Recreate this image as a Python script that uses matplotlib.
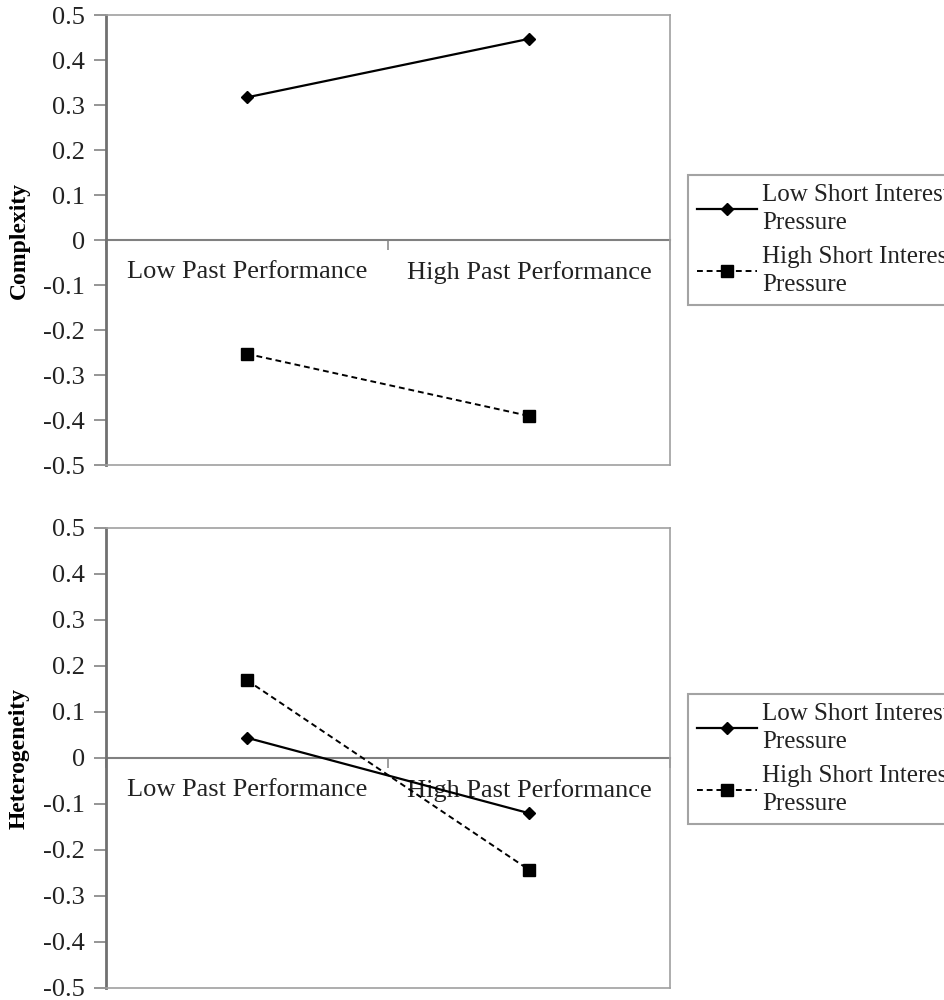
import numpy as np
import matplotlib.pyplot as plt
from matplotlib.lines import Line2D

plt.rcParams['font.family'] = ['Liberation Serif', 'DejaVu Serif']

categories = ['Low Past Performance', 'High Past Performance']
complexity_low = [0.317, 0.447]
complexity_high = [-0.253, -0.391]
hetero_low = [0.044, -0.12]
hetero_high = [0.169, -0.243]
yticks = [-0.5, -0.4, -0.3, -0.2, -0.1, 0, 0.1, 0.2, 0.3, 0.4, 0.5]
ytick_labels = ['-0.5', '-0.4', '-0.3', '-0.2', '-0.1', '0', '0.1', '0.2', '0.3', '0.4', '0.5']
series_names = ['Low Short Interest\nPressure', 'High Short Interest\nPressure']

grey = '#8c8c8c'
fs = 19

fig = plt.figure(figsize=(9.45, 10), dpi=100)
ax1 = fig.add_axes([106/945, 1-465/1000, 564/945, 450/1000])
ax2 = fig.add_axes([106/945, 1-988/1000, 564/945, 460/1000])

xpos = np.arange(len(categories)) + 0.5

def panel(ax, low, high, ylabel, legend_y):
    ax.plot(xpos, low, color='black', lw=1.6, marker='D', ms=6.5)
    ax.plot(xpos, high, color='black', lw=1.4, ls=(0, (3, 2)), marker='s', ms=8)
    ax.set_xlim(0, 2)
    ax.set_ylim(-0.5, 0.5)
    ax.set_yticks(yticks)
    ax.set_yticklabels(ytick_labels, fontsize=fs, color='#222222')
    ax.tick_params(axis='y', direction='out', length=9, width=1.3, color=grey, pad=6)
    ax.set_xticks([])
    for s in ax.spines.values():
        s.set_color('#a0a0a0')
        s.set_linewidth(1.2)
    ax.spines['left'].set_color('#707070')
    ax.spines['left'].set_linewidth(2)
    # category axis crossing at zero
    sec = ax.secondary_xaxis(0.5)
    sec.set_alignment('bottom')
    sec.spines['bottom'].set_color('#808080')
    sec.spines['bottom'].set_linewidth(1.5)
    sec.set_xticks([0, 1, 2])
    sec.set_xticklabels(['', '', ''])
    sec.tick_params(axis='x', direction='out', length=7, width=1.2, color=grey)
    sec.set_xticks(xpos, minor=True)
    sec.set_xticklabels(categories, minor=True, fontsize=fs, color='#222222')
    sec.tick_params(axis='x', which='minor', length=0, pad=15)
    ax.set_ylabel(ylabel, fontsize=17, fontweight='bold', labelpad=10)
    handles = [Line2D([], [], color='black', lw=1.6, marker='D', ms=6.5),
               Line2D([], [], color='black', lw=1.4, ls=(0, (3, 2)), marker='s', ms=8)]
    leg = fig.legend(handles, series_names, loc='center left',
                     bbox_to_anchor=(688/945, legend_y), fontsize=18,
                     frameon=True, fancybox=False, edgecolor=grey,
                     handlelength=2.4, handletextpad=0.2, labelspacing=0.5,
                     borderpad=0.35, borderaxespad=0)
    leg.get_frame().set_linewidth(1.5)
    for t in leg.get_texts():
        t.set_color('#222222')
        t.set_linespacing(1.35)

panel(ax1, complexity_low, complexity_high, 'Complexity', 1-240/1000)
panel(ax2, hetero_low, hetero_high, 'Heterogeneity', 1-759/1000)

fig.savefig('out.png', dpi=100)
